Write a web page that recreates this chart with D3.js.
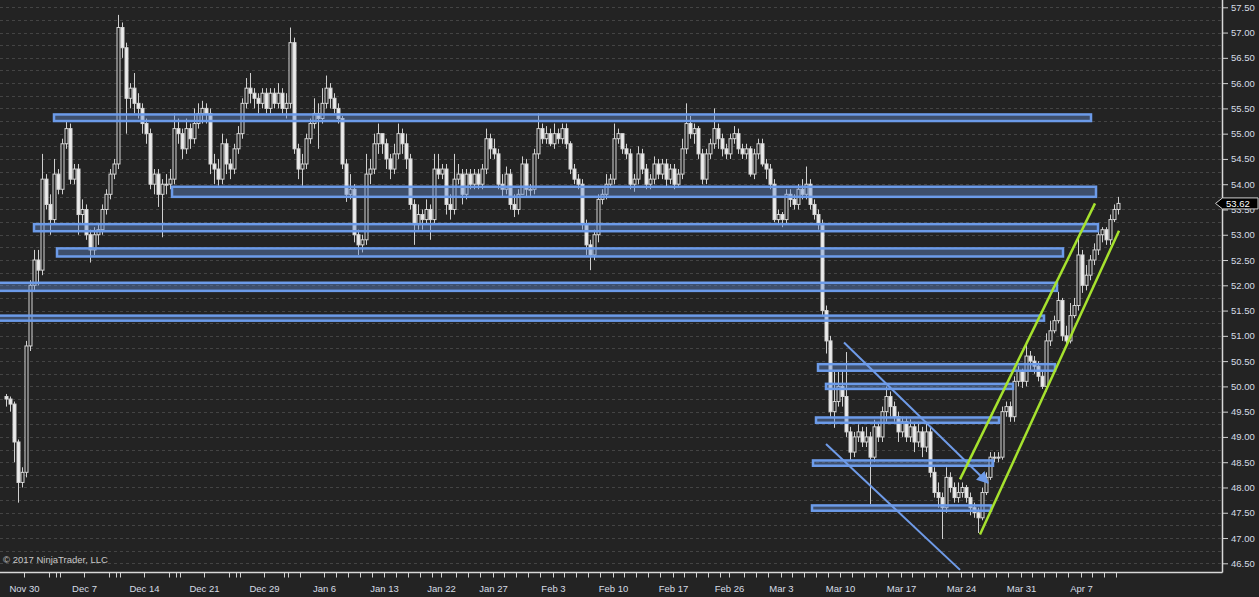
<!DOCTYPE html>
<html>
<head>
<meta charset="utf-8">
<script src="https://cdn.jsdelivr.net/npm/d3@7"></script>
<style>
html, body { margin: 0; padding: 0; background: #232323; overflow: hidden; }
svg { display: block; }
text { font-family: "Liberation Sans", Arial, sans-serif; }
</style>
</head>
<body>
<svg id="chart"></svg>
<script>
// ---- price bars (one every slot, open = previous close) ----
var firstOpen = 49.8;
var closes = [
  49.75, 49.65, 48.9, 48.1, 48.3, 50.8, 52.0, 52.5, 52.3, 54.1,
  53.6, 53.3, 54.2, 53.9, 54.8, 55.1, 54.1, 54.3, 53.4, 53.5,
  53.0, 52.7, 53.0, 53.1, 53.5, 53.8, 54.2, 54.4, 57.1, 56.7,
  55.7, 55.9, 55.6, 55.5, 55.2, 55.0, 54.0, 54.2, 53.8, 54.0,
  54.0, 54.1, 55.1, 55.0, 54.7, 55.1, 54.9, 55.2, 55.4, 55.5,
  55.4, 54.4, 54.3, 54.1, 54.8, 54.4, 54.3, 54.7, 55.0, 55.6,
  55.9, 55.8, 55.7, 55.6, 55.8, 55.5, 55.8, 55.6, 55.8, 55.5,
  55.6, 56.8, 54.7, 54.3, 54.4, 54.9, 55.2, 55.4, 55.3, 55.6,
  55.9, 55.7, 55.5, 55.3, 54.4, 53.8, 53.9, 53.0, 52.8, 52.9,
  54.2, 54.3, 54.8, 55.0, 54.8, 54.5, 54.3, 54.6, 55.0, 54.8,
  54.5, 53.6, 53.2, 53.4, 53.3, 53.5, 53.3, 54.3, 54.2, 54.3,
  53.6, 53.5, 54.1, 54.2, 53.8, 54.2, 54.0, 54.2, 54.0, 54.3,
  54.9, 54.7, 54.6, 54.0, 53.9, 54.2, 53.6, 53.5, 53.8, 54.4,
  53.9, 53.9, 54.6, 55.1, 54.9, 55.0, 54.8, 55.0, 54.9, 55.1,
  54.8, 54.3, 54.1, 54.0, 53.2, 52.8, 52.6, 53.0, 53.7, 53.8,
  54.0, 54.1, 54.9, 55.0, 54.7, 54.6, 54.0, 54.1, 54.6, 54.3,
  54.0, 54.1, 54.4, 54.2, 54.4, 54.1, 54.3, 54.0, 54.2, 54.7,
  55.2, 55.0, 55.1, 54.6, 54.1, 54.6, 54.8, 55.1, 54.9, 54.7,
  54.6, 54.9, 55.0, 54.7, 54.6, 54.7, 54.2, 54.6, 54.8, 54.4,
  54.3, 54.0, 53.3, 53.4, 53.3, 53.8, 53.7, 53.6, 53.9, 53.8,
  54.0, 53.6, 53.4, 53.2, 51.5, 50.9, 49.5, 49.7, 50.0, 49.8,
  49.1, 48.7, 49.0, 49.1, 48.9, 49.0, 48.6, 49.2, 49.0, 49.5,
  49.8, 49.6, 49.4, 49.1, 49.3, 49.0, 49.2, 48.9, 49.1, 48.8,
  49.1, 48.3, 47.9, 47.8, 47.6, 48.2, 48.0, 47.8, 47.9, 48.0,
  47.8, 47.6, 47.5, 47.4, 47.9, 48.2, 48.6, 48.6, 48.6, 49.5,
  49.6, 49.4, 50.1, 50.3, 50.1, 50.6, 50.5, 50.4, 50.2, 50.0,
  50.9, 51.1, 51.3, 51.7, 51.0, 50.9, 51.4, 51.6, 52.6, 52.0,
  52.2, 52.5, 52.7, 53.0, 53.1, 52.9, 53.3, 53.5, 53.62
];
var highs = [
  49.85, 49.8, 49.7, 48.95, 48.4, 50.9, 52.1, 52.7, 52.7, 54.6,
  54.2, 53.8, 54.5, 54.3, 54.9, 55.25, 55.2, 54.4, 54.4, 53.7,
  53.6, 53.1, 53.15, 53.2, 53.6, 53.9, 54.3, 54.5, 57.35, 57.2,
  56.8, 56.0, 56.2, 55.8, 55.6, 55.3, 55.1, 54.3, 54.3, 54.1,
  54.2, 54.3, 55.4, 55.3, 55.1, 55.3, 55.2, 55.5, 55.6, 55.65,
  55.6, 55.5, 54.6, 54.5, 55.0, 54.9, 54.5, 54.8, 55.15, 55.7,
  56.1, 56.2, 55.9, 55.8, 55.9, 55.9, 55.9, 55.9, 56.0, 55.9,
  55.8, 57.1, 56.9, 54.8, 54.6, 55.0, 55.3, 55.7, 55.6, 55.9,
  56.15, 56.0, 55.8, 55.6, 55.35, 54.5, 54.2, 54.0, 53.1, 53.0,
  54.6, 54.5, 55.0, 55.2, 55.0, 54.9, 54.6, 54.8, 55.2, 55.1,
  55.0, 54.6, 53.7, 53.6, 53.5, 53.7, 53.6, 54.6, 54.6, 54.4,
  54.4, 53.8, 54.6, 54.4, 54.3, 54.3, 54.3, 54.3, 54.3, 54.4,
  55.1, 55.0, 54.9, 54.7, 54.2, 54.35, 54.3, 53.8, 53.9, 54.55,
  54.5, 54.0, 54.7, 55.4, 55.2, 55.15, 55.1, 55.2, 55.1, 55.2,
  55.2, 54.85, 54.4, 54.2, 54.1, 53.3, 52.9, 53.1, 53.8, 53.9,
  54.2, 54.2, 55.2, 55.1, 55.0, 54.8, 54.7, 54.2, 54.75, 54.7,
  54.4, 54.2, 54.55, 54.5, 54.5, 54.5, 54.4, 54.4, 54.3, 54.9,
  55.6, 55.35, 55.2, 55.15, 54.7, 54.7, 54.9, 55.5, 55.2, 55.0,
  54.8, 55.0, 55.15, 55.1, 54.8, 54.8, 54.75, 54.7, 54.9, 54.9,
  54.5, 54.4, 54.1, 53.5, 53.45, 53.9, 53.9, 53.8, 54.0, 54.1,
  54.35, 54.1, 53.7, 53.5, 53.3, 51.6, 51.0, 50.3, 50.3, 50.3,
  50.68, 49.2, 49.1, 49.25, 49.2, 49.2, 49.1, 49.34, 49.3, 49.6,
  50.0, 49.9, 49.7, 49.5, 49.4, 49.4, 49.35, 49.3, 49.3, 49.2,
  49.3, 49.2, 48.4, 48.1, 47.9, 48.4, 48.3, 48.1, 48.1, 48.1,
  48.05, 47.9, 47.7, 47.6, 48.0, 48.3, 48.7, 48.7, 48.7, 49.6,
  49.7, 49.7, 50.2, 50.4, 50.35, 50.85, 50.7, 50.6, 50.5, 50.3,
  51.05, 51.3, 51.4, 51.87, 51.75, 51.2, 51.65, 51.75, 52.95, 52.7,
  52.4, 52.6, 52.83, 53.1, 53.15, 53.15, 53.4, 53.6, 53.75
];
var lows = [
  49.6, 49.5, 48.5, 47.7, 48.0, 48.2, 50.7, 51.9, 52.0, 52.2,
  53.5, 53.0, 53.2, 53.8, 53.8, 54.7, 54.0, 54.0, 53.0, 53.2,
  52.9, 52.45, 52.6, 52.8, 53.0, 53.4, 53.7, 54.1, 54.3, 56.5,
  55.0, 55.5, 55.4, 55.3, 55.0, 54.8, 53.9, 53.8, 53.55, 52.95,
  53.8, 53.9, 54.0, 54.8, 54.5, 54.6, 54.7, 54.8, 55.1, 55.2,
  55.2, 54.2, 54.0, 53.97, 54.0, 54.2, 54.1, 54.2, 54.6, 54.9,
  55.5, 55.6, 55.5, 55.4, 55.5, 55.4, 55.4, 55.5, 55.5, 55.4,
  55.3, 55.5, 54.6, 54.1, 53.97, 54.3, 54.8, 55.1, 54.7, 55.2,
  55.5, 55.5, 55.4, 55.2, 54.3, 53.65, 53.7, 52.85, 52.6, 52.65,
  52.8, 54.0, 54.2, 54.6, 54.6, 54.3, 54.1, 54.2, 54.5, 54.6,
  54.3, 53.5, 52.8, 53.1, 53.1, 53.2, 52.9, 53.2, 54.1, 54.1,
  53.4, 53.3, 53.4, 54.0, 53.6, 53.7, 53.9, 53.9, 53.9, 53.9,
  54.2, 54.5, 54.5, 53.9, 53.75, 53.8, 53.5, 53.35, 53.4, 53.8,
  53.75, 53.75, 53.8, 54.5, 54.8, 54.8, 54.75, 54.7, 54.8, 54.8,
  54.7, 54.2, 54.0, 53.9, 53.1, 52.6, 52.3, 52.5, 52.85, 53.6,
  53.7, 53.95, 54.0, 54.8, 54.6, 54.5, 53.9, 53.85, 54.0, 54.2,
  53.9, 53.9, 54.0, 54.1, 54.1, 53.95, 54.0, 53.9, 53.95, 54.1,
  54.6, 54.9, 54.8, 54.5, 54.0, 54.0, 54.5, 54.7, 54.7, 54.55,
  54.5, 54.5, 54.8, 54.6, 54.5, 54.5, 54.15, 54.1, 54.5, 54.35,
  54.1, 53.9, 53.25, 53.2, 53.15, 53.2, 53.55, 53.5, 53.5, 53.7,
  53.7, 53.5, 53.3, 53.1, 51.4, 50.65, 49.4, 49.18, 49.6, 49.6,
  49.0, 48.54, 48.6, 48.9, 48.8, 48.8, 47.67, 48.5, 48.9, 48.9,
  49.3, 49.4, 49.3, 48.9, 49.0, 48.9, 48.9, 48.7, 48.8, 48.6,
  48.7, 48.2, 47.8, 47.6, 46.98, 47.5, 47.9, 47.7, 47.7, 47.8,
  47.7, 47.45, 47.4, 47.1, 47.35, 47.85, 48.15, 48.5, 48.5, 48.55,
  49.4, 49.3, 49.3, 50.0, 49.97, 50.0, 50.3, 50.25, 50.1, 49.95,
  49.9, 50.8, 51.05, 51.25, 50.9, 50.8, 50.85, 51.35, 51.5, 51.85,
  51.9, 52.1, 52.4, 52.6, 52.85, 52.8, 52.8, 53.25, 53.4
];

// ---- axis labels ----
var priceTicks = [46.5, 47, 47.5, 48, 48.5, 49, 49.5, 50, 50.5, 51, 51.5, 52,
                  52.5, 53, 53.5, 54, 54.5, 55, 55.5, 56, 56.5, 57, 57.5];
var dateLabels = ["Nov 30", "Dec 7", "Dec 14", "Dec 21", "Dec 29", "Jan 6", "Jan 13",
                  "Jan 22", "Jan 27", "Feb 3", "Feb 10", "Feb 17", "Feb 26", "Mar 3",
                  "Mar 10", "Mar 17", "Mar 24", "Mar 31", "Apr 7"];
var dateSlots = [6, 21, 36, 51, 66, 81, 96, 110.25, 123.25, 138.25, 153.25, 168.25,
                 182.25, 195.25, 210, 225.25, 240.25, 255.25, 270.25];
var decSessionSlots = [12.25, 14, 15, 27.25, 29, 30, 42.25, 44, 45, 57.25, 59, 60, 71, 72, 75, 84, 87, 90];
var lastPrice = 53.62;

// ---- drawn zones (slot from, slot to, top price, bottom price) ----
var zoneFrom   = [13.5, 43, 8.5, 14.25, -1.25, -1.25, 204.5, 206.5, 204, 203.25, 203];
var zoneTo     = [272.75, 274, 274.5, 265.75, 264.25, 261, 263.75, 253.25, 249.75, 248.25, 247.75];
var zoneTop    = [55.38, 53.95, 53.21, 52.73, 52.05, 51.40, 50.44, 50.05, 49.385, 48.535, 47.645];
var zoneBottom = [55.25, 53.75, 53.07, 52.57, 51.89, 51.30, 50.31, 49.95, 49.28, 48.43, 47.54];

// ---- drawn trend lines ----
var blueLines = [
  {s1: 211, p1: 50.87, s2: 247, p2: 48.09, arrow: true},
  {s1: 206.5, p1: 48.86, s2: 240, p2: 46.37, arrow: false}
];
var greenLines = [
  {s1: 240, p1: 48.16, s2: 273.75, p2: 53.62},
  {s1: 245, p1: 47.07, s2: 279.75, p2: 53.08}
];

var W = 1259, H = 597;
var plotW = 1222.5, plotH = 572.5;

var svg = d3.select("#chart").attr("width", W).attr("height", H);
svg.append("rect").attr("width", W).attr("height", H).attr("fill", "#232323");

var x = d3.scaleLinear().domain([0, 305.5]).range([0, 1222]);
var y = d3.scaleLinear().domain([46.5, 57.5]).range([563.3, 7.3]);

var defs = svg.append("defs");
defs.append("clipPath").attr("id", "plotclip")
  .append("rect").attr("x", 0).attr("y", 0).attr("width", plotW).attr("height", plotH);
defs.append("marker")
  .attr("id", "arrowhead")
  .attr("viewBox", "0 0 10 10")
  .attr("refX", 9).attr("refY", 5)
  .attr("markerWidth", 6).attr("markerHeight", 6)
  .attr("markerUnits", "strokeWidth")
  .attr("orient", "auto")
  .append("path").attr("d", "M0,0 L10,5 L0,10 z").attr("fill", "#6f9be8");

// grid every quarter point
var gridVals = d3.range(46.5, 57.51, 0.25);
svg.append("g").selectAll("line")
  .data(gridVals)
  .enter().append("line")
  .attr("x1", 0).attr("x2", plotW)
  .attr("y1", d => Math.round(y(d)) + 0.5)
  .attr("y2", d => Math.round(y(d)) + 0.5)
  .attr("stroke", "#444")
  .attr("stroke-dasharray", "3,3");

var plot = svg.append("g").attr("clip-path", "url(#plotclip)");

var bars = closes.map(function(c, i) {
  return {slot: i + 1.5, o: i ? closes[i - 1] : firstOpen, h: highs[i], l: lows[i], c: c};
});

// wicks
plot.append("g").selectAll("line")
  .data(bars)
  .enter().append("line")
  .attr("x1", d => Math.round(x(d.slot)) + 0.5)
  .attr("x2", d => Math.round(x(d.slot)) + 0.5)
  .attr("y1", d => y(d.h))
  .attr("y2", d => y(d.l))
  .attr("stroke", "#cfcfcf")
  .attr("stroke-width", 1);

// bodies
plot.append("g").selectAll("rect")
  .data(bars)
  .enter().append("rect")
  .attr("x", d => Math.round(x(d.slot)) - 1)
  .attr("width", 3)
  .attr("y", d => y(Math.max(d.o, d.c)))
  .attr("height", d => Math.max(1, Math.abs(y(d.o) - y(d.c))))
  .attr("fill", d => d.c >= d.o ? "#232323" : "#ececec")
  .attr("stroke", "#d6d6d6")
  .attr("stroke-width", 1);

// zones
plot.append("g").selectAll("rect")
  .data(zoneTop)
  .enter().append("rect")
  .attr("x", (d, i) => x(zoneFrom[i]))
  .attr("width", (d, i) => x(zoneTo[i]) - x(zoneFrom[i]))
  .attr("y", d => y(d))
  .attr("height", (d, i) => y(zoneBottom[i]) - y(d))
  .attr("fill", "rgba(100,140,210,0.42)")
  .attr("stroke", "#6c9be9")
  .attr("stroke-width", 2.5);

// trend lines
plot.append("g").selectAll("line")
  .data(blueLines)
  .enter().append("line")
  .attr("x1", d => x(d.s1)).attr("y1", d => y(d.p1))
  .attr("x2", d => x(d.s2)).attr("y2", d => y(d.p2))
  .attr("stroke", "#6f9be8")
  .attr("stroke-width", 2)
  .attr("marker-end", d => d.arrow ? "url(#arrowhead)" : null);

plot.append("g").selectAll("line")
  .data(greenLines)
  .enter().append("line")
  .attr("x1", d => x(d.s1)).attr("y1", d => y(d.p1))
  .attr("x2", d => x(d.s2)).attr("y2", d => y(d.p2))
  .attr("stroke", "#a6e22e")
  .attr("stroke-width", 2.5);

// watermark
svg.append("text")
  .attr("x", 3).attr("y", 563)
  .attr("fill", "#c8c8c8")
  .attr("font-size", "9.5px")
  .text("\u00a9 2017 NinjaTrader, LLC");

// right price axis
var yAxis = svg.append("g")
  .attr("transform", "translate(" + plotW + ",0)")
  .call(d3.axisRight(y).tickValues(priceTicks).tickFormat(d3.format(".2f")).tickSize(5.5).tickPadding(3));
yAxis.select(".domain").remove();
yAxis.selectAll("line").attr("stroke", "#d0d0d0");
yAxis.selectAll("text").attr("fill", "#d6dde6").attr("font-size", "9.5px")
  .style("font-family", "'Liberation Sans', Arial, sans-serif");

// bottom date axis
var minorSlots = decSessionSlots.concat(d3.range(93, 280, 3).filter(s => !dateSlots.some(t => Math.abs(t - s) < 1.5)));
var xMinor = svg.append("g")
  .attr("transform", "translate(0," + plotH + ")")
  .call(d3.axisBottom(x).tickValues(minorSlots).tickFormat("").tickSize(5));
xMinor.select(".domain").remove();
xMinor.selectAll("line").attr("stroke", "#d0d0d0");

var xAxis = svg.append("g")
  .attr("transform", "translate(0," + plotH + ")")
  .call(d3.axisBottom(x).tickValues(dateSlots).tickFormat((d, i) => dateLabels[i]).tickSize(5).tickPadding(8));
xAxis.select(".domain").remove();
xAxis.selectAll("line").attr("stroke", "#d0d0d0");
xAxis.selectAll("text").attr("fill", "#d6dde6").attr("font-size", "9.5px")
  .style("font-family", "'Liberation Sans', Arial, sans-serif");

// frame lines
svg.append("line").attr("x1", 0).attr("x2", plotW).attr("y1", plotH).attr("y2", plotH)
  .attr("stroke", "#d8d8d8").attr("stroke-width", 1.5);
svg.append("line").attr("x1", plotW).attr("x2", plotW).attr("y1", 0).attr("y2", plotH)
  .attr("stroke", "#d8d8d8").attr("stroke-width", 1.5);

// last price marker
var ly = y(lastPrice);
var marker = svg.append("g");
marker.append("path")
  .attr("d", "M" + (plotW - 7) + "," + ly + " L" + plotW + "," + (ly - 5.5) +
             " L1258," + (ly - 5.5) + " L1258," + (ly + 5.5) + " L" + plotW + "," + (ly + 5.5) + " Z")
  .attr("fill", "#000")
  .attr("stroke", "#cfcfcf")
  .attr("stroke-width", 1);
marker.append("text")
  .attr("x", plotW + 3.5).attr("y", ly)
  .attr("dy", "0.35em")
  .attr("fill", "#ffffff")
  .attr("font-size", "9.5px")
  .text(d3.format(".2f")(lastPrice));
</script>
</body>
</html>
